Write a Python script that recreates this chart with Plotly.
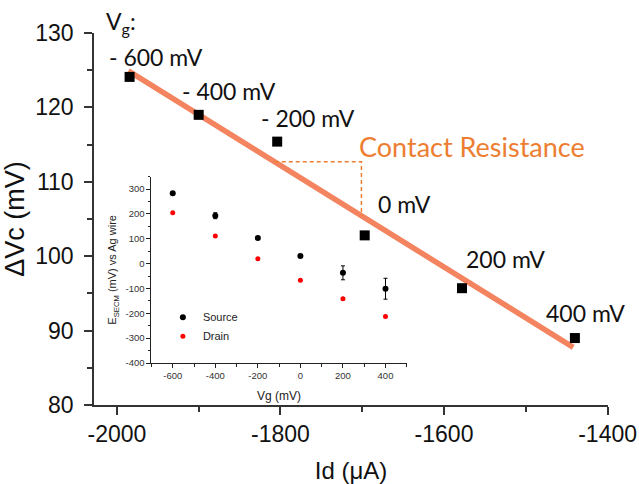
import plotly.graph_objects as go

# ---- main data ----
vg_labels = ["- 600 mV", "- 400 mV", "- 200 mV", "0 mV", "200 mV", "400 mV"]
id_uA = [-1984.5, -1900, -1804, -1697, -1578, -1440]
dvc_mV = [124.1, 119.0, 115.4, 102.8, 95.7, 89.0]

fit_x = [-1986, -1442]
fit_y = [124.9, 87.75]

tri_x = [-1807, -1701, -1701]
tri_y = [112.7, 112.7, 105.4]

x_ticks = [-2000, -1800, -1600, -1400]
x_ticktext = ["-2000", "-1800", "-1600", "-1400"]

# ---- inset data ----
vg_mV = [-600, -400, -200, 0, 200, 400]
source_E = [283, 193, 103, 31, -37, -101]
source_err = [5, 12, 5, 6, 28, 42]
drain_E = [205, 111, 20, -67, -141, -213]
drain_err = [3, 4, 3, 3, 8, 8]

inset_x_ticks = [-600, -400, -200, 0, 200, 400]
inset_x_text = ["-600", "-400", "-200", "0", "200", "400"]
inset_y_ticks = [300, 200, 100, 0, -100, -200, -300, -400]
inset_y_text = ["300", "200", "100", "0", "-100", "-200", "-300", "-400"]

W, H = 639, 484
ML, MR, MT, MB = 94, 31, 33, 79
PW, PH = W - ML - MR, H - MT - MB


def px2paper(px, py):
    return (px - ML) / PW, (H - MB - py) / PH


fig = go.Figure()

fig.add_trace(go.Scatter(x=fit_x, y=fit_y, mode="lines",
                         line=dict(color="#F4845F", width=5.5), showlegend=False,
                         xaxis="x", yaxis="y"))
fig.add_trace(go.Scatter(x=tri_x, y=tri_y, mode="lines",
                         line=dict(color="#ED7D31", width=1.5, dash="4px,3px"),
                         showlegend=False, xaxis="x", yaxis="y"))
fig.add_trace(go.Scatter(x=id_uA, y=dvc_mV, mode="markers",
                         marker=dict(symbol="square", size=10, color="black"),
                         showlegend=False, xaxis="x", yaxis="y"))

fig.add_trace(go.Scatter(x=vg_mV, y=source_E, mode="markers", name="Source",
                         marker=dict(symbol="circle", size=6, color="black"),
                         error_y=dict(type="data", array=source_err, color="black",
                                      thickness=1, width=2),
                         xaxis="x2", yaxis="y2"))
fig.add_trace(go.Scatter(x=vg_mV, y=drain_E, mode="markers", name="Drain",
                         marker=dict(symbol="circle", size=5, color="#FF0000"),
                         error_y=dict(type="data", array=drain_err, color="#FF0000",
                                      thickness=1, width=0),
                         xaxis="x2", yaxis="y2"))

tickfont = dict(family="Liberation Sans, Arial", size=23, color="#111")
inset_tickfont = dict(family="Liberation Sans, Arial", size=9.5, color="#333")
fig.update_layout(
    width=W, height=H, autosize=False,
    margin=dict(l=ML, r=MR, t=MT, b=MB),
    paper_bgcolor="white", plot_bgcolor="rgba(0,0,0,0)",
    font=dict(family="Liberation Sans, Arial", color="#111"),
    xaxis=dict(range=[-2028, -1399.5], tickmode="array", tickvals=x_ticks,
               ticktext=x_ticktext, showgrid=False, automargin=False,
               zeroline=False, showline=True, linecolor="#333", linewidth=1.5,
               ticks="outside", ticklen=8, tickwidth=1.5, tickcolor="#333",
               minor=dict(ticks="outside", tick0=-2000, dtick=100, ticklen=5,
                          tickcolor="#333"),
               tickfont=tickfont, anchor="y",
               title=dict(text="Id (\u03bcA)", font=dict(family="Liberation Sans, Arial", size=24),
                          standoff=16)),
    yaxis=dict(range=[80, 130], dtick=10, showgrid=False, zeroline=False,
               automargin=False,
               showline=True, linecolor="#333", linewidth=1.5,
               ticks="outside", ticklen=8, tickwidth=1.5, tickcolor="#333",
               minor=dict(ticks="outside", dtick=5, ticklen=5, tickcolor="#333"),
               tickfont=tickfont, ticklabelstandoff=6, anchor="x",
               title=dict(text="\u0394Vc (mV)", font=dict(family="Liberation Sans, Arial", size=27),
                          standoff=12)),
    xaxis2=dict(domain=[0.1118, 0.6085], anchor="y2", range=[-700, 500],
                tickmode="array", tickvals=inset_x_ticks, ticktext=inset_x_text,
                showgrid=False, zeroline=False, automargin=False,
                showline=True, linecolor="#222", linewidth=1,
                ticks="outside", ticklen=4, tickcolor="#222",
                minor=dict(ticks="outside", tick0=-700, dtick=100, ticklen=2.5,
                           tickcolor="#222"),
                tickfont=inset_tickfont,
                title=dict(text="Vg (mV)", font=dict(size=12, color="#222"), standoff=11)),
    yaxis2=dict(domain=[0.1129, 0.6137], anchor="x2", range=[-400, 350],
                tickmode="array", tickvals=inset_y_ticks, ticktext=inset_y_text,
                showgrid=False, zeroline=False, automargin=False,
                showline=True, linecolor="#222", linewidth=1,
                ticks="outside", ticklen=4, tickcolor="#222",
                minor=dict(ticks="outside", tick0=-400, dtick=50, ticklen=2.5,
                           tickcolor="#222"),
                tickfont=inset_tickfont,
                title=dict(text="E<sub>SECM</sub> (mV) vs Ag wire",
                           font=dict(size=11, color="#222"), standoff=6)),
    legend=dict(x=0.134, y=0.275, xanchor="left", yanchor="top",
                bgcolor="rgba(0,0,0,0)", font=dict(family="Liberation Sans, Arial",
                                                   size=11, color="#222"),
                itemwidth=30, tracegroupgap=0),
)

label_pos = [(107, 57), (180, 91), (259, 118), (376, 204), (464, 259), (544, 313)]
lab_font = dict(family="Lato, Open Sans", size=23, color="#111")
anns = []
vx, vy = px2paper(104, 22)
anns.append(dict(text="V<sub>g</sub>:", x=vx, y=vy, xref="paper", yref="paper",
                 xanchor="left", yanchor="middle", showarrow=False, font=lab_font))
for lab, (px, py) in zip(vg_labels, label_pos):
    ax, ay = px2paper(px, py)
    anns.append(dict(text=lab, x=ax, y=ay, xref="paper", yref="paper",
                     xanchor="left", yanchor="middle", showarrow=False, font=lab_font))
cx, cy = px2paper(357, 146)
anns.append(dict(text="Contact Resistance", x=cx, y=cy, xref="paper", yref="paper",
                 xanchor="left", yanchor="middle", showarrow=False,
                 font=dict(family="Lato, Open Sans", size=27, color="#ED7D31")))
fig.update_layout(annotations=anns)

fig.write_html("out.html")
